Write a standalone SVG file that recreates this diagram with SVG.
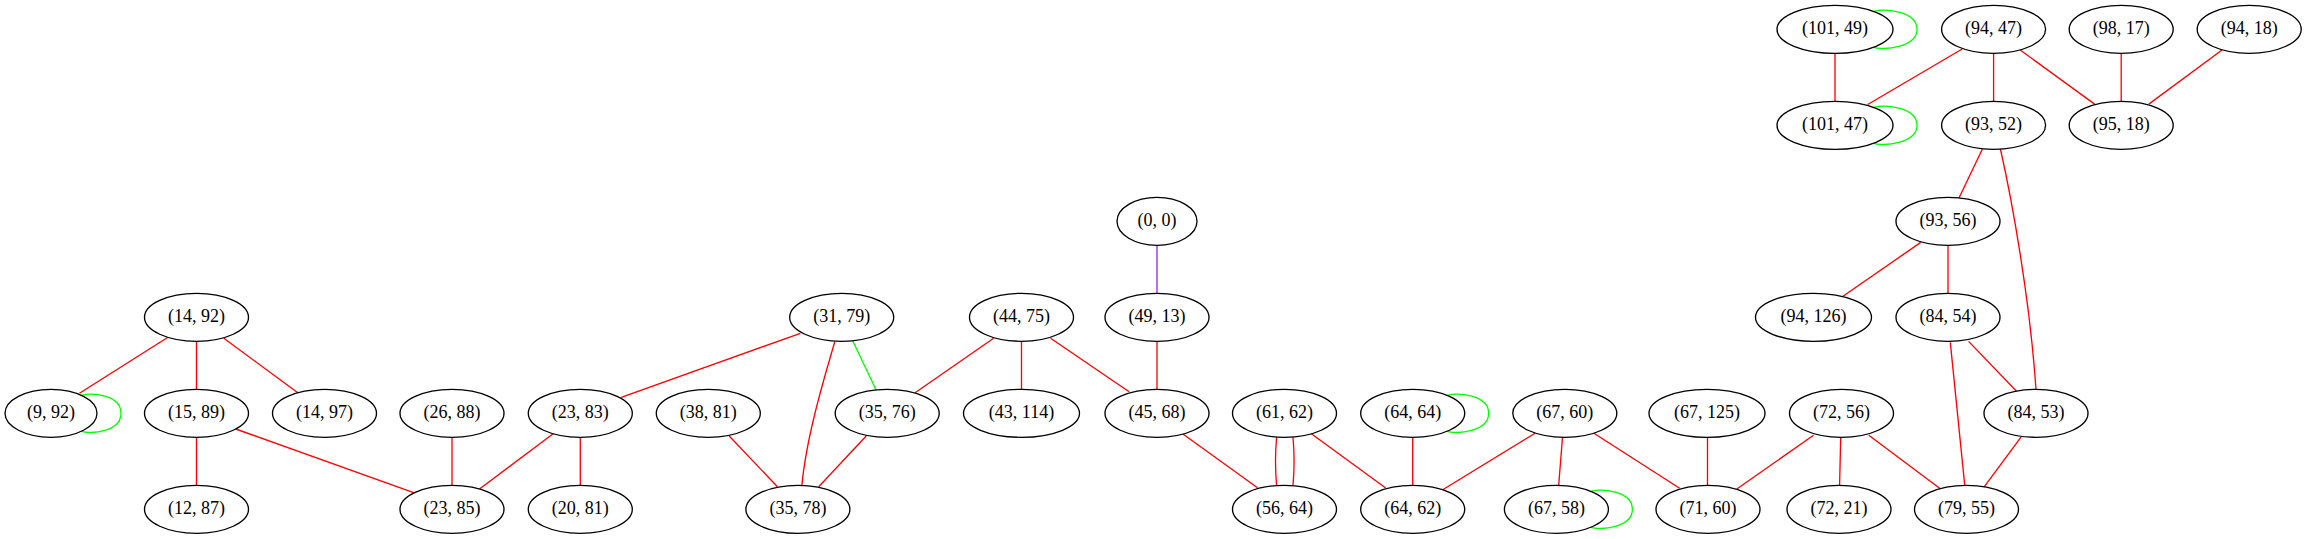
<svg xmlns="http://www.w3.org/2000/svg" width="2307" height="539" viewBox="0 0 2307 539">
<style>
.n ellipse{fill:#fff;stroke:#000;stroke-width:1.33}
.n text{font-family:"Liberation Serif","Times New Roman",serif;font-size:18px;fill:#000;text-anchor:middle}
.e path{fill:none;stroke-width:1.33}
.r{stroke:#ff0000}
.g{stroke:#00ff00}
.p{stroke:#a020f0}
</style>
<rect width="2307" height="539" fill="#fff"/>
<g id="edges" class="e">
<path class="r" d="M167.2,337.7 L79.5,393.3"/>
<path class="r" d="M196.5,341.3 L196.5,389.3"/>
<path class="r" d="M223.8,338.3 L297.8,392.7"/>
<path class="r" d="M196.5,437.3 L196.5,485.3"/>
<path class="r" d="M235.7,429 L413.6,492.7"/>
<path class="r" d="M452,437.3 L452,485.3"/>
<path class="r" d="M553.8,433.3 L479.5,489"/>
<path class="r" d="M580.3,437.3 L580.3,485.3"/>
<path class="r" d="M800.3,333.3 L621.2,397.3"/>
<path class="r" d="M834.8,341.7 C822,385 806,440 801.9,485.5"/>
<path class="g" d="M852.8,341 L876.1,390"/>
<path class="r" d="M729.2,436 L777.4,486.7"/>
<path class="r" d="M866.2,436 L818.7,486.7"/>
<path class="r" d="M993.6,338.3 L915.1,392.7"/>
<path class="r" d="M1021.5,341.3 L1021.5,389.3"/>
<path class="r" d="M1050.6,338.3 L1129.1,391.7"/>
<path class="p" d="M1157,245.3 L1157,293.3"/>
<path class="r" d="M1157,341.3 L1157,389.3"/>
<path class="r" d="M1182.9,434 L1257.5,487.7"/>
<path class="r" d="M1276.6,437.3 C1275,455 1275,468 1276.6,485.3"/>
<path class="r" d="M1293,437.3 C1294.6,455 1294.6,468 1293,485.3"/>
<path class="r" d="M1311,433.5 L1385.7,488"/>
<path class="r" d="M1412.7,437.3 L1412.7,485.3"/>
<path class="r" d="M1535,433.3 L1442.3,490"/>
<path class="r" d="M1562.5,437.3 L1558.7,485.3"/>
<path class="r" d="M1593.5,433 L1679.6,488.3"/>
<path class="r" d="M1707.5,437.3 L1707.5,485.3"/>
<path class="r" d="M1813.5,435.2 L1736.8,489"/>
<path class="r" d="M1840.7,437.3 L1839.6,485.3"/>
<path class="r" d="M1868.8,435.2 L1940.6,489"/>
<path class="r" d="M2021,437.2 L1983.6,487.6"/>
<path class="r" d="M1950.3,342.4 L1964.9,486.9"/>
<path class="r" d="M1968.6,341.4 L2017.2,392"/>
<path class="r" d="M2000.4,149 C2012,200 2030,300 2036,389.5"/>
<path class="r" d="M1948,245.3 L1948,293.3"/>
<path class="r" d="M1920.7,242.4 L1842.6,296.5"/>
<path class="r" d="M1982.4,149 L1958.5,199"/>
<path class="r" d="M1993.6,53.3 L1993.6,101.3"/>
<path class="r" d="M1962.2,49 L1867.7,104.5"/>
<path class="r" d="M2020.2,50 L2094.6,104.1"/>
<path class="r" d="M2121.2,53.3 L2121.2,101.3"/>
<path class="r" d="M2222,50 L2148.8,104.1"/>
<path class="r" d="M1835,53.3 L1835,101.3"/>
<path class="g" d="M81.4,395.3 C93.4,392.3 121,395.3 121,413.3 C121,431.3 93.4,434.3 81.4,431.3"/>
<path class="g" d="M1447.1,395.3 C1459.1,392.3 1488.7,395.3 1488.7,413.3 C1488.7,431.3 1459.1,434.3 1447.1,431.3"/>
<path class="g" d="M1590.8,491.3 C1602.8,488.3 1632.4,491.3 1632.4,509.3 C1632.4,527.3 1602.8,530.3 1590.8,527.3"/>
<path class="g" d="M1873.4,11.3 C1885.4,8.3 1917,11.3 1917,29.3 C1917,47.3 1885.4,50.3 1873.4,47.3"/>
<path class="g" d="M1873.4,107.3 C1885.4,104.3 1917,107.3 1917,125.3 C1917,143.3 1885.4,146.3 1873.4,143.3"/>
</g>
<g id="n_101_49" class="n"><ellipse cx="1835" cy="29.3" rx="58" ry="24"/><text x="1835" y="34.3">(101, 49)</text></g>
<g id="n_94_47" class="n"><ellipse cx="1993.6" cy="29.3" rx="52" ry="24"/><text x="1993.6" y="34.3">(94, 47)</text></g>
<g id="n_98_17" class="n"><ellipse cx="2121.2" cy="29.3" rx="52" ry="24"/><text x="2121.2" y="34.3">(98, 17)</text></g>
<g id="n_94_18" class="n"><ellipse cx="2249.2" cy="29.3" rx="52" ry="24"/><text x="2249.2" y="34.3">(94, 18)</text></g>
<g id="n_101_47" class="n"><ellipse cx="1835" cy="125.3" rx="58" ry="24"/><text x="1835" y="130.3">(101, 47)</text></g>
<g id="n_93_52" class="n"><ellipse cx="1993.6" cy="125.3" rx="52" ry="24"/><text x="1993.6" y="130.3">(93, 52)</text></g>
<g id="n_95_18" class="n"><ellipse cx="2121.2" cy="125.3" rx="52" ry="24"/><text x="2121.2" y="130.3">(95, 18)</text></g>
<g id="n_0_0" class="n"><ellipse cx="1157" cy="221.3" rx="40" ry="24"/><text x="1157" y="226.3">(0, 0)</text></g>
<g id="n_93_56" class="n"><ellipse cx="1948" cy="221.3" rx="52" ry="24"/><text x="1948" y="226.3">(93, 56)</text></g>
<g id="n_14_92" class="n"><ellipse cx="196.5" cy="317.3" rx="52" ry="24"/><text x="196.5" y="322.3">(14, 92)</text></g>
<g id="n_31_79" class="n"><ellipse cx="841.7" cy="317.3" rx="52" ry="24"/><text x="841.7" y="322.3">(31, 79)</text></g>
<g id="n_44_75" class="n"><ellipse cx="1021.5" cy="317.3" rx="52" ry="24"/><text x="1021.5" y="322.3">(44, 75)</text></g>
<g id="n_49_13" class="n"><ellipse cx="1157" cy="317.3" rx="52" ry="24"/><text x="1157" y="322.3">(49, 13)</text></g>
<g id="n_94_126" class="n"><ellipse cx="1813.5" cy="317.3" rx="58" ry="24"/><text x="1813.5" y="322.3">(94, 126)</text></g>
<g id="n_84_54" class="n"><ellipse cx="1948" cy="317.3" rx="52" ry="24"/><text x="1948" y="322.3">(84, 54)</text></g>
<g id="n_9_92" class="n"><ellipse cx="51" cy="413.3" rx="46" ry="24"/><text x="51" y="418.3">(9, 92)</text></g>
<g id="n_15_89" class="n"><ellipse cx="196.5" cy="413.3" rx="52" ry="24"/><text x="196.5" y="418.3">(15, 89)</text></g>
<g id="n_14_97" class="n"><ellipse cx="324.5" cy="413.3" rx="52" ry="24"/><text x="324.5" y="418.3">(14, 97)</text></g>
<g id="n_26_88" class="n"><ellipse cx="452" cy="413.3" rx="52" ry="24"/><text x="452" y="418.3">(26, 88)</text></g>
<g id="n_23_83" class="n"><ellipse cx="580.3" cy="413.3" rx="52" ry="24"/><text x="580.3" y="418.3">(23, 83)</text></g>
<g id="n_38_81" class="n"><ellipse cx="708.3" cy="413.3" rx="52" ry="24"/><text x="708.3" y="418.3">(38, 81)</text></g>
<g id="n_35_76" class="n"><ellipse cx="887.2" cy="413.3" rx="52" ry="24"/><text x="887.2" y="418.3">(35, 76)</text></g>
<g id="n_43_114" class="n"><ellipse cx="1021.5" cy="413.3" rx="58" ry="24"/><text x="1021.5" y="418.3">(43, 114)</text></g>
<g id="n_45_68" class="n"><ellipse cx="1157" cy="413.3" rx="52" ry="24"/><text x="1157" y="418.3">(45, 68)</text></g>
<g id="n_61_62" class="n"><ellipse cx="1284.5" cy="413.3" rx="52" ry="24"/><text x="1284.5" y="418.3">(61, 62)</text></g>
<g id="n_64_64" class="n"><ellipse cx="1412.7" cy="413.3" rx="52" ry="24"/><text x="1412.7" y="418.3">(64, 64)</text></g>
<g id="n_67_60" class="n"><ellipse cx="1564.8" cy="413.3" rx="52" ry="24"/><text x="1564.8" y="418.3">(67, 60)</text></g>
<g id="n_67_125" class="n"><ellipse cx="1707" cy="413.3" rx="58" ry="24"/><text x="1707" y="418.3">(67, 125)</text></g>
<g id="n_72_56" class="n"><ellipse cx="1841.5" cy="413.3" rx="52" ry="24"/><text x="1841.5" y="418.3">(72, 56)</text></g>
<g id="n_84_53" class="n"><ellipse cx="2036" cy="413.3" rx="52" ry="24"/><text x="2036" y="418.3">(84, 53)</text></g>
<g id="n_12_87" class="n"><ellipse cx="196.5" cy="509.3" rx="52" ry="24"/><text x="196.5" y="514.3">(12, 87)</text></g>
<g id="n_23_85" class="n"><ellipse cx="452" cy="509.3" rx="52" ry="24"/><text x="452" y="514.3">(23, 85)</text></g>
<g id="n_20_81" class="n"><ellipse cx="580.3" cy="509.3" rx="52" ry="24"/><text x="580.3" y="514.3">(20, 81)</text></g>
<g id="n_35_78" class="n"><ellipse cx="797.9" cy="509.3" rx="52" ry="24"/><text x="797.9" y="514.3">(35, 78)</text></g>
<g id="n_56_64" class="n"><ellipse cx="1284.5" cy="509.3" rx="52" ry="24"/><text x="1284.5" y="514.3">(56, 64)</text></g>
<g id="n_64_62" class="n"><ellipse cx="1412.7" cy="509.3" rx="52" ry="24"/><text x="1412.7" y="514.3">(64, 62)</text></g>
<g id="n_67_58" class="n"><ellipse cx="1556.4" cy="509.3" rx="52" ry="24"/><text x="1556.4" y="514.3">(67, 58)</text></g>
<g id="n_71_60" class="n"><ellipse cx="1708" cy="509.3" rx="52" ry="24"/><text x="1708" y="514.3">(71, 60)</text></g>
<g id="n_72_21" class="n"><ellipse cx="1839" cy="509.3" rx="52" ry="24"/><text x="1839" y="514.3">(72, 21)</text></g>
<g id="n_79_55" class="n"><ellipse cx="1966.5" cy="509.3" rx="52" ry="24"/><text x="1966.5" y="514.3">(79, 55)</text></g>
</svg>
